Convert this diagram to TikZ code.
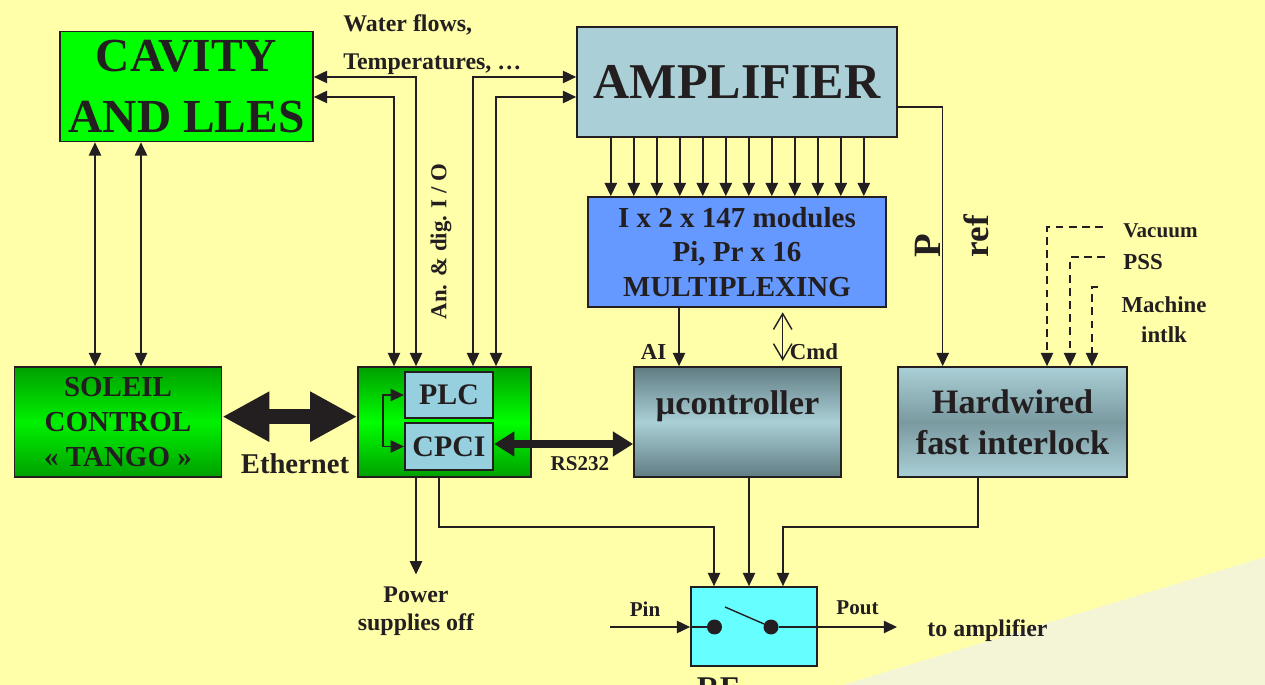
\documentclass[tikz,border=0pt]{standalone}
\usepackage{fontspec}
\setmainfont{Liberation Serif}
\usetikzlibrary{arrows.meta}
\definecolor{ink}{RGB}{35,31,32}
\definecolor{bgyellow}{RGB}{255,255,170}
\definecolor{bgpale}{RGB}{244,245,214}
\definecolor{ampblue}{RGB}{170,207,214}
\definecolor{muxblue}{RGB}{102,153,255}
\definecolor{plcblue}{RGB}{150,208,222}
\definecolor{slate}{RGB}{96,125,131}
\definecolor{rfcyan}{RGB}{102,255,255}
\definecolor{darkgreen}{RGB}{0,160,0}
\newcommand{\bfsize}[2]{\fontsize{#1}{#2}\selectfont\bfseries}
\begin{document}
\begin{tikzpicture}[
    x=0.02cm, y=-0.02cm,
    >={Triangle[length=7.5pt,width=7pt]},
    box/.style={
        draw=ink,
        line width=1pt,
        inner sep=0pt,
        align=center,
        text=ink
    },
    arr/.style={->, line width=0.8pt, draw=ink},
    cmdarr/.style={{Straight Barb[length=9pt,width=10.5pt]}-{Straight Barb[length=9pt,width=10.5pt]}, line width=0.8pt, draw=ink},
    ethernet/.style={{Triangle[length=26.7pt,width=26.7pt]}-{Triangle[length=26.7pt,width=26.7pt]}, line width=8.5pt, draw=ink},
    rsarr/.style={{Triangle[length=11.5pt,width=13.5pt]}-{Triangle[length=11.5pt,width=13.5pt]}, line width=4.5pt, draw=ink},
    dot/.style={circle, fill=ink, inner sep=0pt, minimum size=0.3cm},
    lbl/.style={text=ink, inner sep=0pt, align=center}
]
    \useasboundingbox (0,0) rectangle (1265,685);
    \fill[bgyellow] (0,0) rectangle (1265,685);
    \fill[bgpale] (843,685) -- (1265,557) -- (1265,685) -- cycle;
    \clip (0,0) rectangle (1265,685);

    \node[box, fill=green, minimum width=5.06cm, minimum height=2.2cm,
        font=\bfsize{27}{35}] (cavity) at (186.5,86.5) {CAVITY\\AND LLES};

    \node[box, fill=ampblue, minimum width=6.4cm, minimum height=2.2cm,
        font=\bfsize{28.5}{34}] (amp) at (737,82) {AMPLIFIER};

    \node[box, fill=muxblue, minimum width=5.97cm, minimum height=2.2cm,
        font=\bfsize{16.5}{19.6}] (mux) at (737,252)
        {I x 2 x 147 modules\\Pi, Pr x 16\\MULTIPLEXING};

    \node[box, top color=darkgreen, bottom color=darkgreen, middle color=green!85!darkgreen,
        minimum width=4.14cm, minimum height=2.2cm,
        font=\bfsize{16.5}{20}] (soleil) at (118,422)
        {SOLEIL\\CONTROL\\« TANGO »};

    \node[box, top color=darkgreen, bottom color=darkgreen, middle color=green,
        minimum width=3.46cm, minimum height=2.2cm] (plcbox) at (444.5,422) {};

    \node[box, fill=plcblue, line width=1.3pt, minimum width=1.76cm, minimum height=0.92cm,
        font=\bfsize{17}{20}] (plc) at (449,395) {PLC};

    \node[box, fill=plcblue, line width=1.3pt, minimum width=1.76cm, minimum height=0.94cm,
        font=\bfsize{17}{20}] (cpci) at (449,446.5) {CPCI};

    \node[box, top color=slate, bottom color=slate, middle color=ampblue,
        minimum width=4.14cm, minimum height=2.2cm, text height=13.7pt, text depth=22.8pt,
        font=\bfsize{19.5}{23}] (uc) at (737.5,422) {µcontroller};

    \node[box, top color=ampblue, bottom color=ampblue, middle color=slate!65!ampblue,
        minimum width=4.58cm, minimum height=2.2cm,
        font=\bfsize{19.5}{23.3}] (hw) at (1012.5,422) {Hardwired\\fast interlock};

    \node[box, fill=rfcyan, minimum width=2.52cm, minimum height=1.58cm] (rf) at (754,626.5) {};
    \node[dot] (d1) at (714.5,627) {};
    \node[dot] (d2) at (771,627) {};

    \node[lbl, anchor=base west, font=\bfsize{13.6}{16}] (water) at (343,32) {Water flows,};
    \node[lbl, anchor=base west, font=\bfsize{13.6}{16}] (temp) at (343,70) {Temperatures, …};
    \node[lbl, rotate=90, font=\bfsize{13}{16}] (anio) at (441,241.5) {An. \& dig. I / O};
    \node[lbl, rotate=90, font=\bfsize{22}{24}] (pp) at (927.5,246) {P};
    \node[lbl, rotate=90, font=\bfsize{20}{24}] (pref) at (976,236) {ref};
    \node[lbl, font=\bfsize{13}{16}] (ai) at (653.5,352) {AI};
    \node[lbl, font=\bfsize{13}{16}] (cmd) at (814,352) {Cmd};
    \node[lbl, anchor=west, font=\bfsize{12}{14}] (vacuum) at (1123,231) {Vacuum};
    \node[lbl, anchor=west, font=\bfsize{13}{15}] (pss) at (1123,262) {PSS};
    \node[lbl, font=\bfsize{13}{17}] (machine) at (1164,320) {Machine\\intlk};
    \node[lbl, font=\bfsize{16.3}{19}] (ethlbl) at (295,464) {Ethernet};
    \node[lbl, font=\bfsize{12}{14}] (rslbl) at (580,464) {RS232};
    \node[lbl, font=\bfsize{13.6}{16}] (power) at (416,611.5) {Power\\supplies off};
    \node[lbl, font=\bfsize{12}{14}] (pin) at (645,609) {Pin};
    \node[lbl, font=\bfsize{12}{14}] (pout) at (857.5,608) {Pout};
    \node[lbl, font=\bfsize{13.6}{16}] (toamp) at (987.5,631) {to amplifier};
    \node[lbl, font=\bfsize{18}{20}] (rflbl) at (718,688.5) {RF};

    \coordinate (s1) at (95,0);
    \coordinate (s2) at (141,0);
    \coordinate (w1) at (416,77);
    \coordinate (w2) at (394,97);
    \coordinate (w3) at (473,77);
    \coordinate (w4) at (496,97);
    \coordinate (eth) at (0,416.7);
    \coordinate (rs) at (0,444);
    \coordinate (k) at (383,0);
    \coordinate (ps) at (416,0);
    \coordinate (q1) at (439,527);
    \coordinate (q2) at (714,527);
    \coordinate (q3) at (749,0);
    \coordinate (q4) at (978,527);
    \coordinate (q5) at (783,527);
    \coordinate (aix) at (679,0);
    \coordinate (cmdx) at (782.7,0);
    \coordinate (pr) at (942.7,107);
    \coordinate (vac) at (1103,227);
    \coordinate (vx) at (1047,0);
    \coordinate (pssy) at (1105,257);
    \coordinate (px) at (1070,0);
    \coordinate (mach) at (1098,287);
    \coordinate (mx) at (1092,0);
    \coordinate (pinx) at (610,627);
    \coordinate (poutx) at (897,627);
    \coordinate (lever) at (725,607);

    \draw[arr, <->] (cavity.south -| s1) -- (soleil.north -| s1);
    \draw[arr, <->] (cavity.south -| s2) -- (soleil.north -| s2);
    \draw[arr, <->] (cavity.east |- w1) -| (plcbox.north -| w1);
    \draw[arr, <->] (cavity.east |- w2) -| (plcbox.north -| w2);
    \draw[arr, <->] (amp.west |- w3) -| (plcbox.north -| w3);
    \draw[arr, <->] (amp.west |- w4) -| (plcbox.north -| w4);

    \foreach \i in {0,...,11} {
        \coordinate (m\i) at ({610.8+23*\i},0);
        \draw[arr] (amp.south -| m\i) -- (mux.north -| m\i);
    }

    \draw[arr] (mux.south -| aix) -- (uc.north -| aix);
    \draw[cmdarr, shorten <=2.5pt, shorten >=3pt] (mux.south -| cmdx) -- (uc.north -| cmdx);
    \draw[arr] (amp.east |- pr) -| (hw.north -| pr);

    \draw[arr, dash pattern=on 4.5pt off 3pt] (vac) -| (hw.north -| vx);
    \draw[arr, dash pattern=on 4.5pt off 3pt] (pssy) -| (hw.north -| px);
    \draw[arr, dash pattern=on 4.5pt off 3pt] (mach) -| (hw.north -| mx);

    \draw[ethernet] (soleil.east |- eth) -- (plcbox.west |- eth);
    \draw[rsarr] (cpci.east |- rs) -- (uc.west |- rs);
    \draw[arr, <->] (plc.west) -- (plc.west -| k) -- (cpci.west -| k) -- (cpci.west);

    \draw[arr, shorten >=7pt] (plcbox.south -| ps) -- (power.north);
    \draw[arr] (plcbox.south -| q1) |- (q2) -- (rf.north -| q2);
    \draw[arr] (uc.south -| q3) -- (rf.north -| q3);
    \draw[arr] (hw.south -| q4) |- (q5) -- (rf.north -| q5);

    \draw[arr] (pinx) -- (rf.west |- pinx);
    \draw[line width=0.8pt, draw=ink] (rf.west |- pinx) -- (d1);
    \draw[line width=0.8pt, draw=ink] (lever) -- (d2);
    \draw[arr] (d2) -- (poutx);
\end{tikzpicture}
\end{document}
